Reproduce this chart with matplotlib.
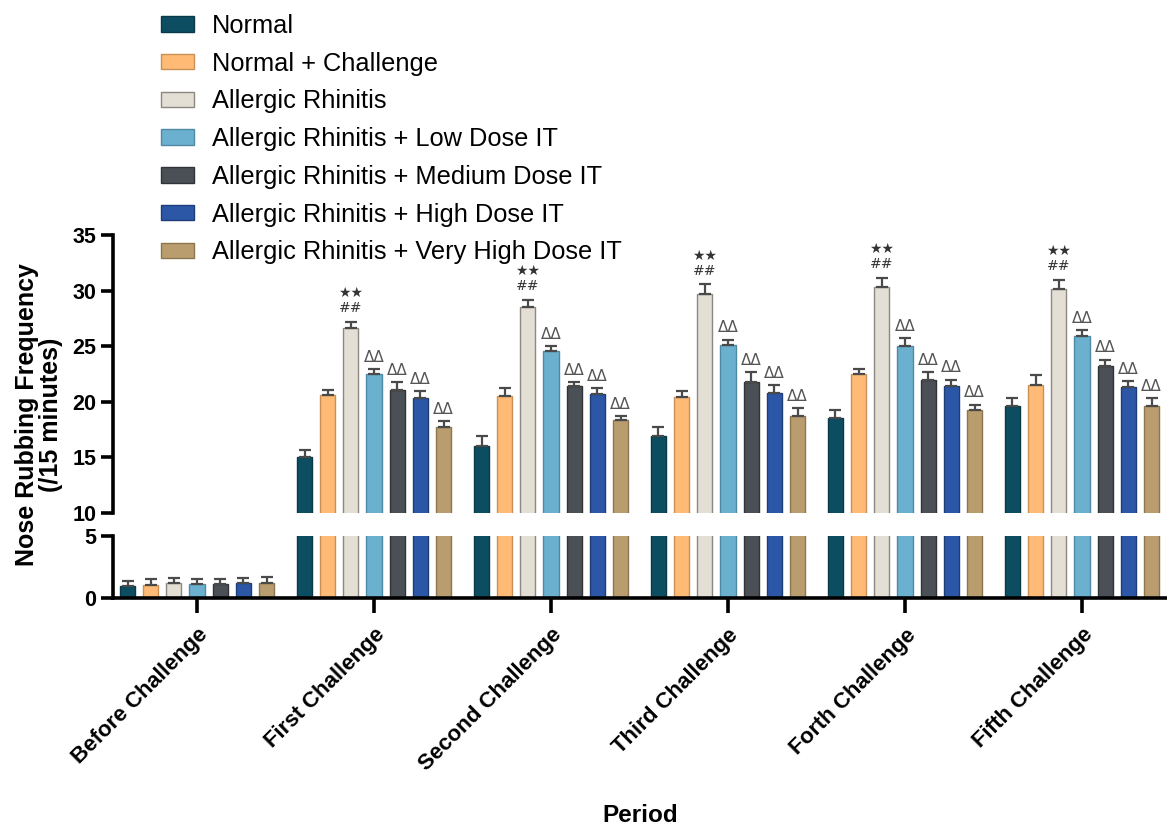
import matplotlib
matplotlib.use("Agg")
import numpy as np
import matplotlib.pyplot as plt
from matplotlib.patches import Patch

plt.rcParams['font.family'] = ['Liberation Sans', 'DejaVu Sans']

# ---- data ----
periods = ["Before Challenge", "First Challenge", "Second Challenge",
           "Third Challenge", "Forth Challenge", "Fifth Challenge"]
groups = ["Normal", "Normal + Challenge", "Allergic Rhinitis",
          "Allergic Rhinitis + Low Dose IT", "Allergic Rhinitis + Medium Dose IT",
          "Allergic Rhinitis + High Dose IT", "Allergic Rhinitis + Very High Dose IT"]

normal = [0.95, 15.0, 16.0, 16.9, 18.5, 19.6]
normal_err = [0.45, 0.7, 0.9, 0.8, 0.75, 0.75]
normal_ch = [1.05, 20.6, 20.5, 20.4, 22.5, 21.5]
normal_ch_err = [0.5, 0.5, 0.75, 0.6, 0.45, 0.9]
ar = [1.2, 26.6, 28.5, 29.7, 30.3, 30.1]
ar_err = [0.45, 0.6, 0.65, 0.85, 0.8, 0.85]
ar_low = [1.1, 22.5, 24.6, 25.1, 25.0, 25.9]
ar_low_err = [0.45, 0.45, 0.4, 0.5, 0.75, 0.55]
ar_med = [1.1, 21.1, 21.4, 21.8, 22.0, 23.2]
ar_med_err = [0.45, 0.7, 0.35, 0.9, 0.7, 0.6]
ar_high = [1.2, 20.3, 20.7, 20.8, 21.4, 21.3]
ar_high_err = [0.45, 0.7, 0.55, 0.7, 0.6, 0.55]
ar_vhigh = [1.2, 17.7, 18.4, 18.7, 19.3, 19.6]
ar_vhigh_err = [0.5, 0.55, 0.3, 0.75, 0.45, 0.75]

# significance marks per period
sig_ar = ["", "★★\n##", "★★\n##", "★★\n##", "★★\n##", "★★\n##"]
sig_it = ["", "ΔΔ", "ΔΔ", "ΔΔ", "ΔΔ", "ΔΔ"]

means = [normal, normal_ch, ar, ar_low, ar_med, ar_high, ar_vhigh]
errs = [normal_err, normal_ch_err, ar_err, ar_low_err, ar_med_err, ar_high_err, ar_vhigh_err]
colors = ["#0c4d62", "#ffbb76", "#e4dfd5", "#6cb0cf", "#4b4f56", "#2c57a7", "#b99d6f"]
edges = ["#0a3a4a", "#c98f55", "#8c8780", "#4f8aa5", "#303338", "#1d3c7a", "#8c7650"]

fig = plt.figure(figsize=(11.67, 8.27), dpi=100)
W, H = 1167, 827
ax_top = fig.add_axes([113 / W, 1 - 513 / H, (W - 113) / W, (513 - 235) / H])
ax_bot = fig.add_axes([113 / W, 1 - 598 / H, (W - 113) / W, (598 - 536) / H])

x = np.arange(len(periods))
slot = 0.131
bw = 0.086

for ax in (ax_top, ax_bot):
    for i in range(len(groups)):
        pos = x + (i - 3) * slot
        ax.bar(pos, means[i], bw, color=colors[i], edgecolor=edges[i], linewidth=1.0, zorder=2)
        ax.errorbar(pos, means[i], yerr=[np.zeros(len(periods)), errs[i]], fmt="none",
                    ecolor="#4a4a4a", elinewidth=1.6, capsize=4, capthick=1.6, zorder=3)
    ax.set_xlim(-0.475, 5.48)
    ax.spines["top"].set_visible(False)
    ax.spines["right"].set_visible(False)
    ax.spines["left"].set_linewidth(2.6)
    ax.spines["bottom"].set_linewidth(2.6)
    ax.tick_params(axis="y", width=2.6, length=9, labelsize=15.5, pad=3)

# upper segment
ax_top.set_ylim(10, 35)
ax_top.set_yticks([10, 15, 20, 25, 30, 35])
ax_top.spines["bottom"].set_visible(False)
ax_top.tick_params(axis="x", bottom=False, labelbottom=False)
for lab in ax_top.get_yticklabels():
    lab.set_fontweight("bold")

for j in range(len(periods)):
    if sig_ar[j]:
        ax_top.annotate(sig_ar[j], (x[j] - 1 * slot, ar[j] + ar_err[j]), xytext=(0, 5),
                        textcoords="offset points", ha="center", va="bottom",
                        fontsize=10, color="#333333", linespacing=1.1,
                        family=["DejaVu Sans"])
    for i in range(3, 7):
        if sig_it[j]:
            ax_top.annotate(sig_it[j], (x[j] + (i - 3) * slot, means[i][j] + errs[i][j]),
                            xytext=(0, 3), textcoords="offset points", ha="center",
                            va="bottom", fontsize=11, color="#555555",
                            family=["DejaVu Sans"])

# lower segment
ax_bot.set_ylim(0, 5)
ax_bot.set_yticks([0, 5])
for lab in ax_bot.get_yticklabels():
    lab.set_fontweight("bold")
ax_bot.set_xticks(x)
ax_bot.set_xticklabels(periods, rotation=45, ha="right", rotation_mode="anchor",
                       fontsize=16, fontweight="bold")
ax_bot.tick_params(axis="x", width=2.6, length=11, pad=8)

fig.text(640 / W, 1 - 816 / H, "Period", ha="center", va="center",
         fontsize=17.5, fontweight="bold")
fig.text(39 / W, 1 - 415 / H, "Nose Rubbing Frequency\n(/15 minutes)", ha="center",
         va="center", rotation=90, fontsize=18, fontweight="bold", linespacing=1.05)

handles = [Patch(facecolor=colors[i], edgecolor=edges[i], linewidth=1.0) for i in range(len(groups))]
fig.legend(handles, groups, loc="upper left", bbox_to_anchor=(161 / W, 1 - 14 / H),
           frameon=False, fontsize=18.3, handlelength=1.3, handleheight=0.56,
           handletextpad=0.7, labelspacing=0.54, borderaxespad=0, borderpad=0)

fig.savefig("out.png", dpi=100)
